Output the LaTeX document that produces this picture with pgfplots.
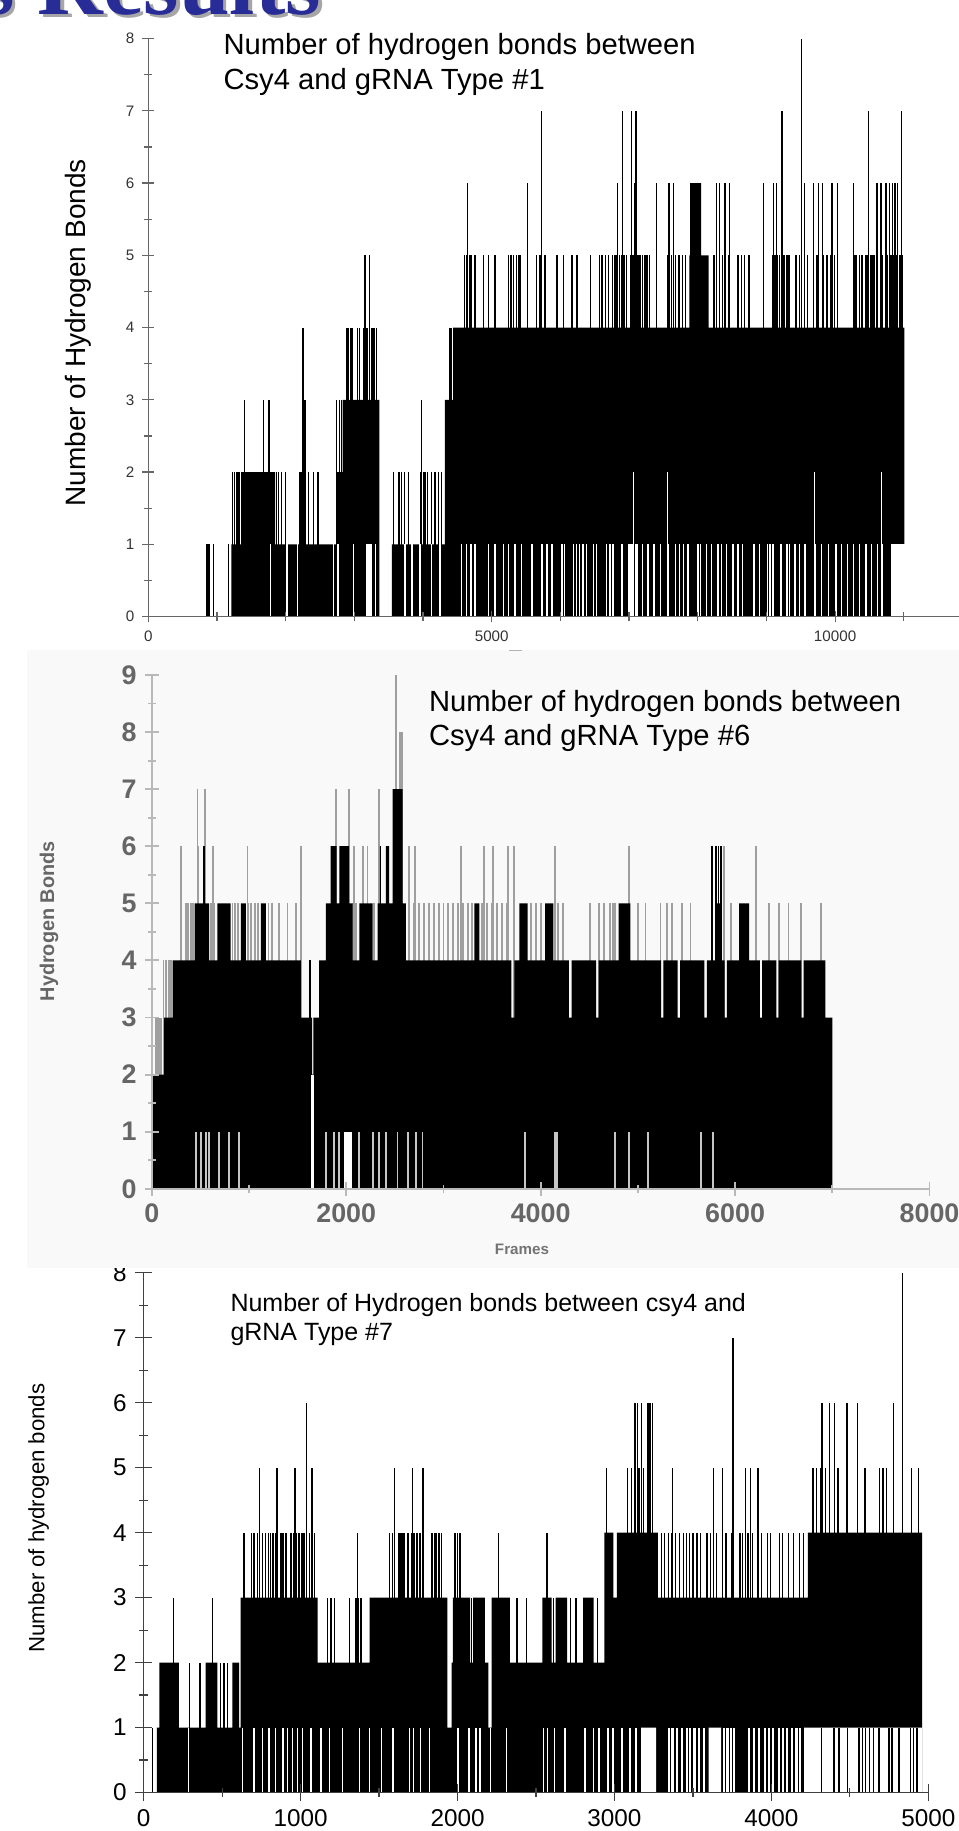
\documentclass[border=0pt]{standalone}
\usepackage{pgfplots}
\pgfplotsset{compat=1.18}
\usepackage{fontspec}
\setmainfont{Liberation Sans}
\newfontfamily\slidefont{Liberation Serif}
\definecolor{slideblue}{RGB}{40,44,150}
\definecolor{bggray}{RGB}{249,249,249}

\pgfplotsset{
  hbond/.style={
    scale only axis, anchor=south west, axis lines=left,
    axis line style={-}, axis on top, tick align=center,
    scaled ticks=false,
    /pgf/number format/assume math mode=true,
  },
  spk/.style={ycomb, black, line width=0.55pt, mark=none, forget plot},
  gap/.style={ycomb, white, line width=0.6pt, mark=none, forget plot},
}

\begin{document}
\begin{tikzpicture}
\useasboundingbox (0,0) rectangle (410.5pt,-784pt);

% ---------------- chart 3 (type #7) ----------------
\begin{axis}[hbond, at={(61.5pt,-767.5pt)}, width=336pt, height=222.5pt,
  xmin=0, xmax=5000, ymin=0, ymax=8,
  xtick={0,1000,...,5000}, xticklabels={0,1000,2000,3000,4000,5000},
  minor xtick={500,1500,...,4500},
  ytick={0,...,8}, minor ytick={0.5,1.5,...,7.5},
  major tick length=7.5pt, minor tick length=4pt,
  axis line style={black!75, line width=0.5pt},
  every tick/.style={black!75, line width=0.5pt},
  tick label style={font=\fontsize{10.4}{12}\selectfont, black},
]
\addplot[const plot, fill=black, draw=none, forget plot] coordinates {
(0,0)(85,1)(100,2)(224,1)(395,2)(470,1)(565,2)(608,1)(618,3)(1109,2)(1380,1)(1392,2)
(1440,3)(1936,1)(1962,2)(1970,3)(2080,2)(2100,3)(2175,2)(2196,1)(2217,3)(2334,2)(2540,3)(2600,2)(2625,3)(2698,2)
(2800,3)(2868,2)(2936,4)(2993,3)(3016,4)(3277,3)(4232,4)(4960,0)} \closedcycle;
\addplot[spk, line width=0.6pt] coordinates {(58,1)
(294,2)(358,2)(490,2)(512,2)(533,2)
(192,3)(437,3)(1172,3)(1194,3)(1215,3)(1311,3)(1354,3)(1370,3)(1386,3)(2090,3)(2380,3)(2440,3)(2612,3)(2720,3)(2755,3)(2890,3)
(640,4)(689,4)(704,4)(725,4)(757,4)(778,4)(795,4)(810,4)(825,4)(842,4)(874,4)(889,4)(906,4)(938,4)(953,4)
(970,4)(991,4)(1008,4)(1023,4)(1055,4)(1072,4)(1087,4)(1364,4)(1567,4)(1584,4)(1599,4)(1627,4)(1642,4)
(1652,4)(1684,4)(1706,4)(1727,4)(1742,4)(1759,4)(1840,4)(1865,4)(1883,4)(1898,4)(1983,4)(2000,4)(2015,4)
(2260,4)(2569,4)(1641,4)(1664,4)(1686,4)(1716,4)(1739,4)(1761,4)(1784,4)(1834,4)(1857,4)(1989,4)
(3300,4)(3320,4)(3345,4)(3365,4)(3390,4)(3415,4)(3440,4)(3460,4)(3480,4)(3500,4)(3525,4)(3550,4)(3590,4)
(3610,4)(3650,4)(3690,4)(3710,4)(3745,4)(3800,4)(3815,4)(3850,4)(3880,4)(3915,4)(3935,4)(3975,4)(3995,4)
(4050,4)(4070,4)(4110,4)(4140,4)(4180,4)(4205,4)
(740,5)(849,5)(964,5)(1072,5)(1599,5)(1712,5)(1780,5)(2948,5)(3084,5)(3107,5)(3130,5)(3157,5)(3186,5)
(3368,5)(3630,5)(3687,5)(3755,5)(3834,5)(3868,5)(3914,5)(4266,5)(4289,5)(4312,5)(4346,5)(4425,5)(4482,5)
(4550,5)(4596,5)(4687,5)(4710,5)(4732,5)(4778,5)(4834,5)(4891,5)(4937,5)
(1036,6)(3130,6)(3148,6)(3171,6)(3214,6)(3227,6)(3243,6)(4323,6)(4369,6)(4403,6)(4482,6)(4550,6)(4778,6)
(3755,7)(4834,8)};
% stretches where the count never drops to 0
\addplot[const plot, fill=white, draw=none, forget plot] coordinates {
(3170,1)(3265,0)(3600,1)(3680,0)(4208,1)(4960,0)} \closedcycle;
\addplot[spk, line width=0.7pt] coordinates {
(4320,1)(4400,1)(4431,1)(4484,1)(4558,1)(4580,1)(4600,1)(4625,1)(4650,1)(4685,1)(4749,1)(4770,1)
(4813,1)(4887,1)(4905,1)(4929,1)};
\addplot[gap] coordinates {
(284,1)(629,1)(704,1)(757,1)(800,1)(842,1)(889,1)(917,1)(949,1)(981,1)(1013,1)(1066,1)(1130,1)(1183,1)
(1269,1)(1375,1)(1439,1)(1514,1)(1588,1)(1695,1)(1720,1)(1766,1)(1823,1)(2004,1)(2073,1)(2118,1)(2143,1)
(2209,1)(2311,1)(2548,1)(2573,1)(2618,1)(2686,1)(2811,1)(2868,1)(2902,1)};
\addplot[gap, line width=0.9pt] coordinates {
(2960,1)(2990,1)(3050,1)(3100,1)(3140,1)(3345,1)(3370,1)(3400,1)(3430,1)(3460,1)(3480,1)(3510,1)
(3540,1)(3570,1)(3700,1)(3720,1)(3745,1)(3760,1)(3860,1)(3890,1)(3920,1)(3960,1)(3985,1)(4010,1)
(4050,1)(4075,1)(4100,1)(4130,1)(4160,1)(4185,1)};
\end{axis}

% background of the middle picture
\fill[bggray] (11.5pt,-278.5pt) rectangle (410.5pt,-543pt);
\draw[gray!60, line width=0.6pt] (218pt,-278.5pt) -- (223.5pt,-278.5pt);

% ---------------- chart 2 (type #6) ----------------
\begin{axis}[hbond, at={(65pt,-509pt)}, width=333pt, height=220pt,
  xmin=0, xmax=8000, ymin=0, ymax=9,
  xtick={0,2000,4000,6000,8000}, xticklabels={0,2000,4000,6000,8000},
  minor xtick={1000,3000,5000,7000},
  ytick={0,...,9}, minor ytick={0.5,1.5,...,8.5},
  major tick length=6pt, minor tick length=3.5pt,
  axis line style={gray!55, line width=0.9pt},
  every tick/.style={gray!55, line width=0.8pt},
  tick label style={font=\bfseries\fontsize{11.5}{13}\selectfont, black!60},
]
\addplot[ycomb, gray!75, line width=0.8pt, forget plot] coordinates {
(40,3)(60,3)(80,3)(100,3)(120,4)(150,4)(180,4)(200,4)
(350,5)(370,5)(400,5)(420,5)(610,5)(640,5)(830,5)(860,5)(890,5)(990,5)(1020,5)(1060,5)(1090,5)(1200,5)
(1240,5)(1310,5)(1396,5)(1482,5)(2065,5)(2100,5)(2290,5)(2650,5)(2700,5)(2750,5)(2800,5)(2850,5)(2900,5)
(2950,5)(3000,5)(3050,5)(3100,5)(3150,5)(3200,5)(3250,5)(3290,5)(3400,5)(3450,5)(3500,5)(3550,5)(3600,5)
(3650,5)(3900,5)(3950,5)(4000,5)(4180,5)(4230,5)(4510,5)(4596,5)(4648,5)(4717,5)(4740,5)(4768,5)(5000,5)
(5078,5)(5233,5)(5300,5)(5353,5)(5450,5)(5542,5)(5955,5)(6351,5)(6450,5)(6550,5)(6678,5)(6884,5)
(298,6)(477,6)(631,6)(985,6)(1533,6)(2082,6)(2168,6)(2219,6)(2648,6)(2710,6)(3180,6)(3420,6)(3507,6)
(3660,6)(3728,6)(4150,6)(4906,6)(5886,6)(6213,6)
(470,7)(545,7)(1893,7)(2030,7)(2340,7)(2550,8)(2565,8)(2578,8)(2510,9)};
\addplot[const plot, fill=black, draw=none, forget plot] coordinates {
(0,2)(127,3)(213,4)(440,5)(590,4)(675,5)(810,4)(915,5)(967,4)(1122,5)(1173,4)(1533,3)(1648,2)(1662,3)
(1722,4)(1790,5)(1840,6)(1900,5)(1930,6)(2030,5)(2065,4)(2134,5)(2271,4)(2322,5)(2345,6)(2357,5)(2408,6)
(2442,5)(2476,7)(2580,5)(2614,4)(3317,5)(3370,4)(3700,3)(3730,4)(3780,5)(3866,4)(4046,5)(4132,4)(4290,3)
(4318,4)(4570,3)(4595,4)(4803,5)(4923,4)(5240,3)(5262,4)(5410,3)(5435,4)(5685,3)(5710,4)(5800,5)(5852,4)
(5892,3)(5915,4)(6041,5)(6144,4)(6255,3)(6278,4)(6425,3)(6448,4)(6683,3)(6705,4)(6930,3)(7000,0)} \closedcycle;
\addplot[spk, line width=0.8pt] coordinates {(1630,4)(539,6)(5766,6)(5800,6)(5830,6)(5852,6)};
\addplot[ycomb, gray!45, line width=0.8pt, forget plot] coordinates {
(453,1)(504,1)(556,1)(590,1)(693,1)(796,1)(899,1)(1790,1)(1876,1)(1928,1)(2133,1)(2271,1)(2339,1)
(2408,1)(2528,1)(2631,1)(2717,1)(2785,1)(3843,1)(4150,1)(4170,1)(4768,1)(4906,1)(5104,1)(5645,1)(5777,1)};
\addplot[ycomb, white, line width=0.8pt, forget plot] coordinates {
(1985,1)(2000,1)(2015,1)(2030,1)(2045,1)(1650,2)(1656,2)};
\end{axis}

% ---------------- chart 1 (type #1) ----------------
\begin{axis}[hbond, at={(63.5pt,-264pt)}, width=347pt, height=247.5pt,
  xmin=0, xmax=11800, ymin=0, ymax=8,
  xtick={0,5000,10000}, xticklabels={0,5000,10000},
  minor xtick={1000,2000,3000,4000,6000,7000,8000,9000,11000},
  ytick={0,...,8}, minor ytick={0.5,1.5,...,7.5},
  major tick length=5pt, minor tick length=3.5pt,
  axis line style={black!60, line width=0.5pt},
  every tick/.style={black!60, line width=0.5pt},
  tick label style={font=\fontsize{6.5}{7}\selectfont, black!80},
]
\addplot[const plot, fill=black, draw=none, forget plot] coordinates {
(0,0)(1210,1)(1350,2)(1845,1)(2740,2)(2830,3)(3365,0)(3545,1)(4320,3)(4440,4)(7880,5)(7890,6)(8050,5)
(8160,4)(11010,0)} \closedcycle;
\addplot[spk] coordinates {
(854,1)(883,1)(952,1)(1171,1)
(1225,2)(1250,2)(1280,2)(1305,2)(1330,2)(1863,2)(1900,2)(1935,2)(1994,2)(2205,2)(2220,2)(2235,2)(2250,2)
(2265,2)(2280,2)(2335,2)(2408,2)(2471,2)(3575,2)(3638,2)(3660,2)(3687,2)(3735,2)(3784,2)(3969,2)(4003,2)
(4027,2)(4060,2)(4125,2)(4173,2)(4222,2)(4270,2)
(1396,3)(1674,3)(1757,3)(2283,3)(2745,3)(2780,3)(2810,3)(3980,3)
(2252,4)(2894,4)(2918,4)(2948,4)(2967,4)(3045,4)(3079,4)(3142,4)(3162,4)(3186,4)(3220,4)(3249,4)(3273,4)
(3298,4)(3327,4)(4392,4)(4416,4)
(3157,5)(3220,5)(4601,5)(4635,5)(4684,5)(4708,5)(4757,5)(4879,5)(4952,5)(5049,5)(5243,5)(5282,5)(5316,5)
(5365,5)(5389,5)(5414,5)(5657,5)(5705,5)(5778,5)(5951,5)(6049,5)(6170,5)(6243,5)(6438,5)(6574,5)(6608,5)
(6657,5)(6705,5)(6760,5)(6785,5)(6810,5)(6835,5)(6860,5)(6885,5)(6910,5)(6935,5)(6960,5)(7020,5)(7045,5)
(7070,5)(7095,5)(7120,5)(7145,5)(7170,5)(7195,5)(7220,5)(7245,5)(7270,5)(7295,5)(7566,5)(7615,5)(7678,5)
(7727,5)(7775,5)(7824,5)(8237,5)(8276,5)(8320,5)(8359,5)(8408,5)(8456,5)(8588,5)(8636,5)(8685,5)(8748,5)
(8957,5)(9090,5)(9115,5)(9140,5)(9165,5)(9190,5)(9215,5)(9240,5)(9265,5)(9290,5)(9315,5)(9340,5)(9429,5)
(9478,5)(9551,5)(9600,5)(9687,5)(9736,5)(9833,5)(9882,5)(9931,5)(9989,5)(10037,5)(10271,5)(10290,5)
(10310,5)(10354,5)(10380,5)(10402,5)(10451,5)(10475,5)(10524,5)(10550,5)(10572,5)(10621,5)(10694,5)
(10767,5)(10806,5)(10830,5)(10854,5)(10888,5)(10910,5)(10937,5)(10960,5)(10986,5)
(4650,6)(5525,6)(6832,6)(7080,6)(7401,6)(7581,6)(7644,6)(8276,6)(8320,6)(8398,6)(8461,6)(8957,6)(9098,6)
(9152,6)(9551,6)(9682,6)(9760,6)(9818,6)(9954,6)(10037,6)(10271,6)(10611,6)(10670,6)(10743,6)(10791,6)
(10840,6)(10874,6)(10913,6)(10971,6)
(5730,7)(6900,7)(7031,7)(7099,7)(9220,7)(9239,7)(10485,7)(10971,7)(9507,8)};
\addplot[gap] coordinates {
(1780,1)(2019,1)(2169,1)(2700,1)(2763,1)(2987,1)(3186,1)(3200,1)(3215,1)(3230,1)(3245,1)(3307,1)(3735,1)
(3842,1)(3955,1)(4125,1)(4246,1)(4562,1)(4635,1)(4699,1)(4757,1)(4952,1)(5049,1)(5170,1)(5243,1)(5341,1)
(5438,1)(5584,1)(5730,1)(5805,1)(5876,1)(6024,1)(6058,1)(6195,1)(6233,1)(6282,1)(6331,1)(6379,1)(6486,1)
(6525,1)(6671,1)(6720,1)(6769,1)(6900,1)(6997,1)(7010,1)(7025,1)(7040,1)(7060,1)(7100,1)(7120,1)(7192,1)
(7274,1)(7362,1)(7459,1)(7566,1)(7678,1)(7737,1)(7790,1)(7858,1)(8004,1)(8043,1)(8126,1)(8199,1)(8296,1)
(8344,1)(8418,1)(8515,1)(8588,1)(8651,1)(8821,1)(8899,1)(9016,1)(9055,1)(9094,1)(9210,1)(9298,1)(9332,1)
(9415,1)(9483,1)(9561,1)(9706,1)(9804,1)(9901,1)(10013,1)(10096,1)(10183,1)(10271,1)(10354,1)(10451,1)
(10533,1)(10621,1)(10694,1)(10830,1)(10845,1)(10860,1)(10875,1)(10890,1)(10905,1)(10920,1)(10935,1)
(10950,1)(10965,1)(10980,1)(10995,1)(11005,1)
(7065,2)(7556,2)(9697,2)(10680,2)};
\end{axis}

% ---------------- titles and axis names ----------------
\begin{scope}[font=\fontsize{12.5}{15}\selectfont]
\node[anchor=west, inner sep=0pt] at (95.5pt,-20pt) {Number of hydrogen bonds between};
\node[anchor=west, inner sep=0pt] at (95.5pt,-35pt) {Csy4 and gRNA Type \#1};
\node[anchor=west, inner sep=0pt] at (183.5pt,-301.5pt) {Number of hydrogen bonds between};
\node[anchor=west, inner sep=0pt] at (183.5pt,-316pt) {Csy4 and gRNA Type \#6};
\end{scope}
\begin{scope}[font=\fontsize{10.7}{13}\selectfont]
\node[anchor=west, inner sep=0pt] at (98.5pt,-559pt) {Number of Hydrogen bonds between csy4 and};
\node[anchor=west, inner sep=0pt] at (98.5pt,-571.5pt) {gRNA Type \#7};
\end{scope}
\node[rotate=90, font=\fontsize{12}{14}\selectfont] at (33.5pt,-142.5pt) {Number of Hydrogen Bonds};
\node[rotate=90, font=\bfseries\fontsize{8.5}{10}\selectfont, text=black!60] at (21pt,-394.5pt) {Hydrogen Bonds};
\node[font=\bfseries\fontsize{6.5}{8}\selectfont, text=black!55] at (223.5pt,-535pt) {Frames};
\node[rotate=90, font=\fontsize{9.5}{11}\selectfont] at (16.5pt,-650pt) {Number of hydrogen bonds};

% slide heading, cut by the top edge
\node[anchor=base west, inner sep=0pt, font=\slidefont\bfseries\fontsize{39}{40}\selectfont, text=black!35] at (-7.5pt,-7.5pt) {s Results};
\node[anchor=base west, inner sep=0pt, font=\slidefont\bfseries\fontsize{39}{40}\selectfont, text=slideblue] at (-9pt,-6pt) {s Results};
\end{tikzpicture}
\end{document}
